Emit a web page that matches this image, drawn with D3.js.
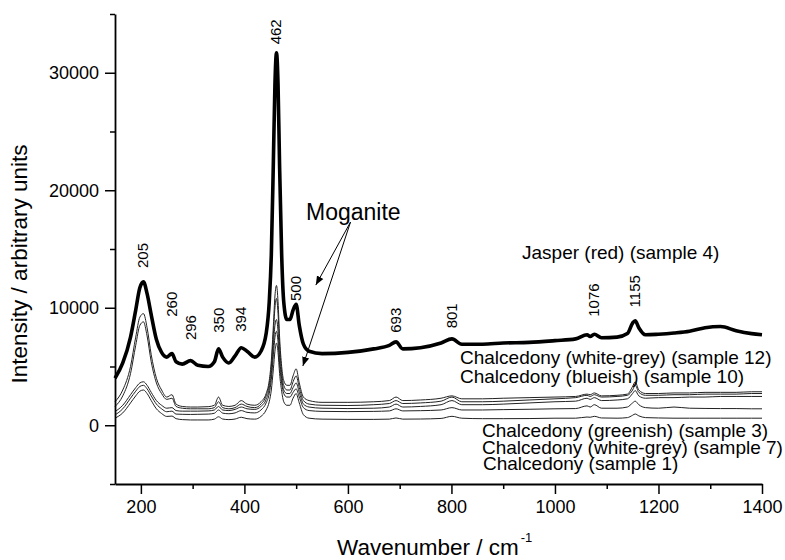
<!DOCTYPE html>
<html>
<head>
    <meta charset="utf-8">
    <title>Raman spectra</title>
    <script src="https://cdn.jsdelivr.net/npm/d3@7"></script>
    <style>
        body { margin: 0; background: #fff; }
        text { font-family: "Liberation Sans", Arial, sans-serif; fill: #000; }
    </style>
</head>
<body>
    <svg width="785" height="560" id="mainsvg"></svg>
    <script>
        // wavenumber grid (cm-1), shared by all spectra
        const wavenumbers = [
            150, 165, 180, 190, 198, 205, 212, 220, 230, 240,
            250, 260, 268, 280, 296, 310, 330, 342, 350, 358,
            370, 382, 394, 405, 420, 432, 442, 448, 452, 456,
            459, 462, 465, 468, 472, 476, 482, 488, 494, 500,
            506, 514, 525, 550, 600, 650, 680, 693, 706, 740,
            780, 801, 820, 860, 900, 950, 1000, 1040, 1062, 1068,
            1076, 1090, 1120, 1140, 1150, 1155, 1162, 1175, 1200, 1230,
            1260, 1290, 1320, 1350, 1380, 1400
        ];
        const jasper = [
            4000, 5300, 7500, 9800, 11700, 12200, 11200, 9400, 7300, 6200,
            5800, 6100, 5400, 5200, 5500, 5100, 5000, 5400, 6500, 5800,
            5300, 5900, 6600, 6300, 5800, 6300, 7800, 10500, 14500, 22500,
            29000, 31700, 29000, 22000, 14500, 10500, 9000, 9000, 9800, 10300,
            8500, 6900, 6300, 6100, 6200, 6500, 6800, 7100, 6500, 6600,
            7000, 7350, 6900, 6900, 7000, 7050, 7200, 7350, 7700, 7550,
            7750, 7450, 7500, 7800, 8700, 8900, 8300, 7700, 7750, 7850,
            8000, 8300, 8400, 8050, 7800, 7700
        ];
        const sample12 = [
            2000, 3000, 5000, 7500, 9200, 9500, 8300, 6000, 4000, 3000,
            2400, 2600, 1800, 1600, 1550, 1550, 1580, 1700, 2400, 1700,
            1600, 1700, 2100, 1800, 1700, 2000, 2700, 3800, 5500, 8500,
            11000, 11900, 10500, 7500, 5000, 3800, 3400, 3400, 4200, 4800,
            3600, 2400, 2100, 1950, 1950, 2000, 2100, 2400, 2100, 2150,
            2300, 2500, 2250, 2250, 2300, 2350, 2400, 2450, 2650, 2600,
            2750, 2500, 2550, 2650, 3300, 3700, 3000, 2700, 2700, 2750,
            2750, 2800, 2800, 2800, 2850, 2850
        ];
        const sample10 = [
            1600, 2500, 4400, 6800, 8500, 8800, 7600, 5400, 3600, 2700,
            2200, 2300, 1600, 1450, 1400, 1400, 1400, 1500, 2000, 1500,
            1400, 1500, 1800, 1600, 1500, 1800, 2500, 3500, 5000, 7800,
            10000, 10800, 9500, 6800, 4500, 3400, 3000, 3000, 3700, 4200,
            3200, 2100, 1800, 1700, 1680, 1750, 1850, 2100, 1850, 1900,
            2050, 2400, 2000, 2000, 2050, 2150, 2250, 2350, 2550, 2450,
            2600, 2400, 2450, 2550, 3000, 3400, 2800, 2550, 2550, 2600,
            2600, 2650, 2650, 2650, 2700, 2700
        ];
        const sample3 = [
            1160, 1700, 2600, 3200, 3600, 3700, 3400, 2800, 2100, 1700,
            1450, 1500, 1250, 1200, 1200, 1200, 1220, 1300, 1600, 1300,
            1250, 1350, 1550, 1400, 1350, 1600, 2200, 3100, 4400, 6800,
            8500, 9000, 8000, 5800, 4000, 3000, 2700, 2700, 3200, 3600,
            2800, 1800, 1550, 1450, 1420, 1450, 1550, 1800, 1550, 1600,
            1750, 2100, 1750, 1750, 1800, 1900, 2000, 2050, 2300, 2200,
            2350, 2100, 2150, 2250, 2700, 2950, 2500, 2300, 2350, 2350,
            2400, 2400, 2450, 2450, 2450, 2450
        ];
        const sample7 = [
            880, 1400, 2300, 2900, 3300, 3400, 3100, 2500, 1800, 1400,
            1150, 1200, 950, 930, 920, 930, 950, 1020, 1300, 1030,
            980, 1050, 1250, 1100, 1050, 1300, 1900, 2700, 3900, 6000,
            7500, 8000, 7100, 5200, 3600, 2700, 2400, 2400, 2800, 3100,
            2400, 1500, 1250, 1180, 1160, 1180, 1220, 1400, 1220, 1240,
            1300, 1500, 1300, 1300, 1330, 1360, 1400, 1420, 1650, 1550,
            1750, 1450, 1450, 1550, 1900, 2050, 1750, 1500, 1450, 1550,
            1450, 1430, 1420, 1420, 1400, 1400
        ];
        const sample1 = [
            600, 1050, 1900, 2500, 2900, 3000, 2700, 2100, 1400, 1000,
            750, 780, 560, 480, 450, 450, 450, 520, 720, 530,
            480, 530, 680, 560, 520, 750, 1300, 2000, 3000, 4800,
            6300, 7000, 6200, 4400, 2900, 2000, 1700, 1700, 2300, 2700,
            1900, 900, 600, 520, 500, 500, 520, 620, 520, 530,
            580, 760, 600, 560, 560, 570, 600, 600, 700, 680,
            760, 620, 600, 650, 850, 960, 800, 650, 620, 600,
            600, 600, 600, 600, 600, 600
        ];

        // peak labels: wavenumber and the intensity where the label starts
        const peakNames = ['205', '260', '296', '350', '394', '462', '500', '693', '801', '1076', '1155'];
        const peakPos = [205, 260, 296, 350, 394, 462, 500, 693, 801, 1076, 1155];
        const peakLabelY = [13380, 9230, 7250, 7870, 7960, 32420, 10570, 7870, 8250, 9230, 10030];

        const sampleNames = [
            'Jasper (red) (sample 4)',
            'Chalcedony (white-grey) (sample 12)',
            'Chalcedony (blueish) (sample 10)',
            'Chalcedony (greenish) (sample 3)',
            'Chalcedony (white-grey) (sample 7)',
            'Chalcedony (sample 1)'
        ];

        const xTicks = [200, 400, 600, 800, 1000, 1200, 1400];
        const xMinor = [300, 500, 700, 900, 1100, 1300];
        const yTicks = [0, 10000, 20000, 30000];
        const yMinor = [-5000, 5000, 15000, 25000, 35000];

        const svg = d3.select('svg');
        const margin = {top: 14, left: 115, right: 23, bottom: 76};
        const width = +svg.attr('width');
        const height = +svg.attr('height');

        const xScale = d3.scaleLinear().domain([150, 1400]).range([margin.left, width - margin.right]);
        const yScale = d3.scaleLinear().domain([-5000, 35000]).range([height - margin.bottom, margin.top]);

        const line = d3.line()
            .x((d, i) => xScale(wavenumbers[i]))
            .y(d => yScale(d))
            .curve(d3.curveMonotoneX);

        // thin chalcedony spectra first, jasper on top
        const thin = [sample12, sample10, sample3, sample7, sample1];
        svg.append('g').selectAll('path')
            .data(thin).join('path')
            .attr('d', line)
            .attr('fill', 'none')
            .attr('stroke', '#222')
            .attr('stroke-width', 1);

        svg.append('path')
            .datum(jasper)
            .attr('d', line)
            .attr('fill', 'none')
            .attr('stroke', '#000')
            .attr('stroke-width', 3.6)
            .attr('stroke-linejoin', 'round');

        // axes
        const fontSize = '18px';
        const xAxis = svg.append('g').attr('transform', `translate(0, ${yScale(-5000)})`);
        xAxis.call(d3.axisBottom(xScale).tickValues(xTicks).tickFormat(d3.format('d'))
            .tickSize(10).tickSizeOuter(0).tickPadding(6));
        xAxis.append('g').call(d3.axisBottom(xScale).tickValues(xMinor).tickSize(5).tickFormat(''))
            .select('.domain').remove();

        const yAxis = svg.append('g').attr('transform', `translate(${xScale(150)}, 0)`);
        yAxis.call(d3.axisLeft(yScale).tickValues(yTicks).tickFormat(d3.format('d'))
            .tickSize(10).tickSizeOuter(0).tickPadding(6));
        yAxis.append('g').call(d3.axisLeft(yScale).tickValues(yMinor).tickSize(5).tickFormat(''))
            .select('.domain').remove();

        svg.selectAll('.domain').attr('stroke-width', 1.8);
        svg.selectAll('.tick line').attr('stroke-width', 1.5);
        svg.selectAll('.tick text')
            .style('font-family', '"Liberation Sans", Arial, sans-serif')
            .style('font-size', fontSize);

        // axis titles
        svg.append('text')
            .attr('transform', 'translate(27, 264) rotate(-90)')
            .attr('text-anchor', 'middle')
            .style('font-size', '22.5px')
            .text('Intensity / arbitrary units');

        const xTitle = svg.append('text')
            .attr('x', 337).attr('y', 555)
            .style('font-size', '22.5px');
        xTitle.append('tspan').text('Wavenumber / cm');
        xTitle.append('tspan').attr('dy', -13).attr('dx', 2).style('font-size', '13px').text('-1');

        // peak labels
        svg.append('g').selectAll('text')
            .data(peakNames).join('text')
            .attr('transform', (d, i) => `translate(${xScale(peakPos[i]) + 5}, ${yScale(peakLabelY[i])}) rotate(-90)`)
            .style('font-size', '15px')
            .text(d => d);

        // sample labels
        const labelX = [522, 460, 460, 482, 482, 483];
        const labelY = [259, 364, 382.5, 437, 453.5, 470];
        svg.append('g').selectAll('text')
            .data(sampleNames).join('text')
            .attr('x', (d, i) => labelX[i])
            .attr('y', (d, i) => labelY[i])
            .style('font-size', '19px')
            .text(d => d);

        // Moganite annotation with two arrows
        svg.append('defs').append('marker')
            .attr('id', 'head').attr('viewBox', '0 0 10 10')
            .attr('refX', 10).attr('refY', 5)
            .attr('markerWidth', 9).attr('markerHeight', 9)
            .attr('markerUnits', 'userSpaceOnUse')
            .attr('orient', 'auto')
            .append('path').attr('d', 'M0,1 L10,5 L0,9 Z').attr('fill', '#000');

        svg.append('text')
            .attr('x', 306).attr('y', 220)
            .style('font-size', '23px')
            .text('Moganite');

        const arrowFrom = [605, 17290];
        const arrowTo = [[538, 11930], [513, 5040]];
        svg.append('g').selectAll('line')
            .data(arrowTo).join('line')
            .attr('x1', xScale(arrowFrom[0])).attr('y1', yScale(arrowFrom[1]))
            .attr('x2', d => xScale(d[0])).attr('y2', d => yScale(d[1]))
            .attr('stroke', '#000').attr('stroke-width', 1)
            .attr('marker-end', 'url(#head)');
    </script>
</body>
</html>
